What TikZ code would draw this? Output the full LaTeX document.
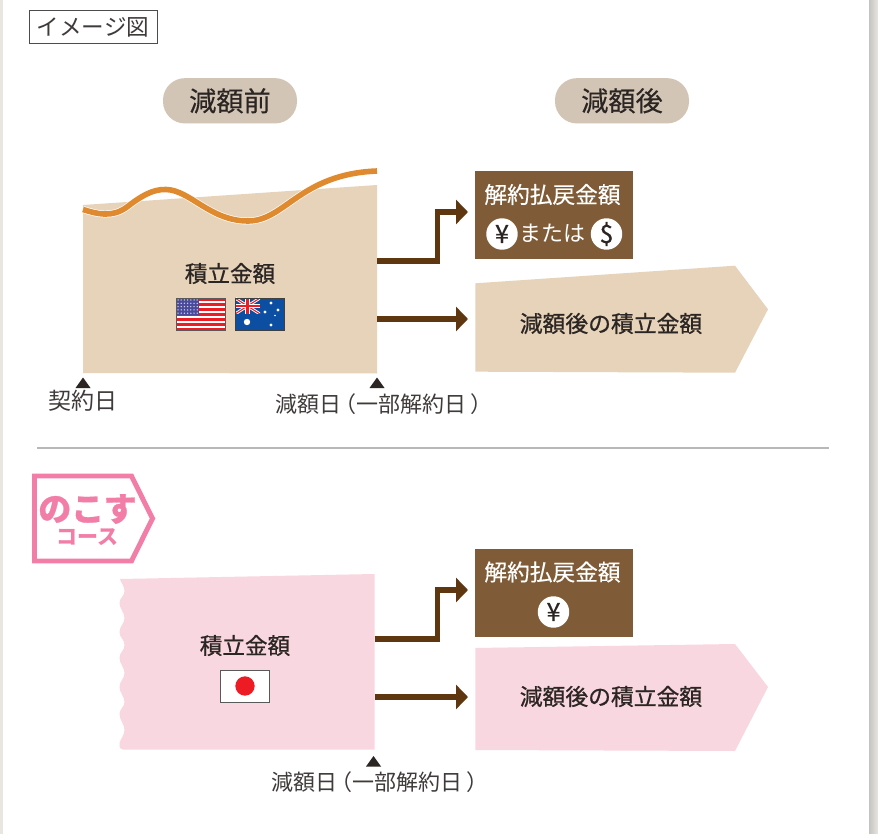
\documentclass[tikz,border=0pt]{standalone}
\usepackage{fontspec}
\setmainfont{Noto Sans CJK JP}
\newfontfamily\medfont[FakeBold=0.35]{Noto Sans CJK JP}
\newfontfamily\semifont[FakeBold=0.8]{Noto Sans CJK JP}
\usetikzlibrary{arrows.meta}
\definecolor{tan}{HTML}{E6D3B9}
\definecolor{pill}{HTML}{D3C5B5}
\definecolor{brownbox}{HTML}{7F5C37}
\definecolor{arrowbrown}{HTML}{5E3710}
\definecolor{pinkfill}{HTML}{F9D7E0}
\definecolor{pinkline}{HTML}{F27EA8}
\definecolor{ink}{HTML}{2B2523}
\definecolor{softink}{HTML}{3F3B3A}
\definecolor{curve}{HTML}{DF8A2E}
\definecolor{usred}{HTML}{ED1C24}
\definecolor{usblue}{HTML}{4A4A9C}
\definecolor{aublue}{HTML}{0B4EA2}
\definecolor{edge}{HTML}{E8E6DF}
\definecolor{edgedark}{HTML}{C4C4C2}
\newcommand{\fspx}[1]{\fontsize{\dimexpr#1pt*3/4\relax}{\dimexpr#1pt*3/4\relax}\selectfont}
\tikzset{
  flow/.style={draw=arrowbrown,line width=3.9pt,line join=miter,-{Triangle[length=9pt,width=18pt]}},
  lab/.style={inner sep=0pt,text=softink,font=\fspx{22}},
  labb/.style={inner sep=0pt,text=ink,font=\semifont\fspx{22.6}},
  whitelab/.style={inner sep=0pt,text=white,font=\fspx{22}},
  pillbox/.style={fill=pill,rounded corners=16.5pt,minimum width=100.5pt,minimum height=34pt,inner sep=0pt,text=ink,font=\medfont\fspx{27.2}},
  brownrect/.style={fill=brownbox,minimum width=118.5pt,minimum height=66pt,inner sep=0pt},
  coin/.style={circle,fill=white,minimum size=23.6pt,inner sep=0pt,text=ink,font=\semifont\fspx{25}},
  marker/.style={fill=ink},
  flagframe/.style={draw=black!65,line width=.6pt},
}
\begin{document}
\begin{tikzpicture}[x=0.75pt,y=-0.75pt]
\useasboundingbox (0,0) rectangle (878,834);
\fill[white] (0,0) rectangle (878,834);
% page edges
\fill[edge] (0,0) rectangle (3,834);
\shade[left color=edgedark,right color=edge] (869,0) rectangle (878,834);
% header tag
\node[draw=black!70,line width=.7pt,fill=white,minimum width=96pt,minimum height=25pt,inner sep=0pt,text=softink,font=\fspx{22.6}] (tag) at (93,27) {イメージ図};
\node[pillbox] (before) at (230,100.8) {減額前};
\node[pillbox] (after) at (622,100.8) {減額後};
% upper block
\fill[tan] (83,205) -- (377,185) -- (377,373.5) -- (83,373) -- cycle;
\coordinate (A1) at (377,261);
\coordinate (A2) at (377,319);
\draw[white,line width=5.2pt] (83,209.5) .. controls (97,214) and (112,218) .. (127,207) .. controls (140,197) and (152,189) .. (166,189.5) .. controls (190,190) and (210,221) .. (248,221) .. controls (285,221) and (300,174) .. (377,171);
\draw[curve,line width=4.2pt] (83,209.5) .. controls (97,214) and (112,218) .. (127,207) .. controls (140,197) and (152,189) .. (166,189.5) .. controls (190,190) and (210,221) .. (248,221) .. controls (285,221) and (300,174) .. (377,171);
\node[labb] (sum1) at (230,273.5) {積立金額};
% US flag
\begin{scope}
\clip (176.5,298) rectangle (225,330);
\fill[white] (176.5,298) rectangle (225,330);
\foreach \i in {0,...,6}{\fill[usred] (176.5,298+\i*4.92) rectangle (225,298+\i*4.92+2.9);}
\fill[usblue] (176.5,298) rectangle (199,315);
\foreach \r in {0,...,4}{\foreach \c in {0,...,6}{\fill[white!75!usblue] (178+\c*3.2,300+\r*3.3) circle (.75);}}
\end{scope}
\draw[flagframe] (176.5,298) rectangle (225,330);
% AU flag
\begin{scope}
\clip (235,298) rectangle (284,330);
\fill[aublue] (235,298) rectangle (284,330);
\begin{scope}
\clip (235,298) rectangle (260,314);
\draw[white,line width=2.2pt] (235,298) -- (260,314) (260,298) -- (235,314);
\draw[usred,line width=.8pt] (235,298) -- (260,314) (260,298) -- (235,314);
\draw[white,line width=3.6pt] (247.5,298) -- (247.5,314) (235,306) -- (260,306);
\draw[usred,line width=2.1pt] (247.5,298) -- (247.5,314) (235,306) -- (260,306);
\end{scope}
\foreach \x/\y/\r in {247/322/3.2,271/303/1.7,265/312/1.7,278/310/1.7,275/315.5/.9,271/325/1.7}{\fill[white] (\x,\y) circle (\r);}
\end{scope}
\draw[flagframe,draw=black!75] (235,298) rectangle (284,330);
% markers
\fill[marker] (83,377.5) -- (90.5,388) -- (75.5,388) -- cycle;
\fill[marker] (377,377.5) -- (384.5,388) -- (369.5,388) -- cycle;
\node[lab,font=\fspx{23}] (start) at (82.5,401) {契約日};
\node[lab,anchor=west] (cut1) at (275.5,404) {減額日\hspace{-.34em}（一部解約日\hspace{.18em}）};
% upper results
\node[brownrect] (pay1) at (553.8,215) {};
\node[whitelab,font=\medfont\fspx{22.7}] (pay1t) at (552.5,194.5) {解約払戻金額};
\node[coin] (yen1) at (502,234) {¥};
\node[coin] (dol1) at (606.5,234) {\$};
\node[whitelab] (or1) at (552.5,233) {または};
\fill[tan] (475.3,283.3) -- (735,265.7) -- (768,309.3) -- (735,372.7) -- (475.3,371.7) -- cycle;
\node[labb,font=\semifont\fspx{22.8}] (rest1) at (611,323.5) {減額後の積立金額};
\coordinate (T1) at (468,212);
\coordinate (T2) at (468,319);
\draw[flow] (A1) -| (437.5,212) -- (T1);
\draw[flow] (A2) -- (T2);
% divider
\draw[black!28,line width=.8pt] (37,448) coordinate (d1) -- (829,448) coordinate (d2);
% badge
\draw[pinkline,line width=3.7pt,fill=white,line join=miter] (34.5,476) -- (131.5,476) -- (152.5,518.5) -- (131.5,561) -- (34.5,561) -- cycle;
\node[inner sep=0pt,text=pinkline,font=\fspx{33}\bfseries\addfontfeature{FakeBold=.8}] (nokosu) at (87.5,509) {のこす};
\node[inner sep=0pt,text=pinkline,font=\fspx{21}\bfseries] (course) at (87.5,537.5) {コース};
% lower block
\fill[pinkfill] (120,579) -- (374.5,574) -- (374.5,749.5) -- (123,749.5)
  .. controls (119,749) and (119,745) .. (119.5,743)
  .. controls (120.5,739) and (124.5,735) .. (124.5,730)
  .. controls (124.5,724) and (119.5,720) .. (119.5,714)
  .. controls (119.5,709) and (124.5,707) .. (124.5,702)
  .. controls (124.5,696) and (119.5,693) .. (119.5,687)
  .. controls (119.5,681) and (124.5,679) .. (124.5,673)
  .. controls (124.5,667) and (119.5,664) .. (119.5,658)
  .. controls (119.5,652) and (124.5,651) .. (124.5,645)
  .. controls (124.5,639) and (119.5,638) .. (119.5,632)
  .. controls (119.5,626) and (124.5,624) .. (124.5,618)
  .. controls (124.5,612) and (119.5,609) .. (119.5,603)
  .. controls (119.5,598) and (124.5,596) .. (124.5,591)
  .. controls (124.5,586) and (121,583) .. (120,579) -- cycle;
\coordinate (B1) at (374.5,639);
\coordinate (B2) at (374.5,697);
\node[labb] (sum2) at (245,645.5) {積立金額};
\node[draw=black!65,line width=.6pt,fill=white,minimum width=36.5pt,minimum height=24pt,inner sep=0pt] (jp) at (245,686) {};
\node[circle,fill=usred,minimum size=14.5pt,inner sep=0pt] (sun) at (245,686) {};
\fill[marker] (373.5,756) -- (381,766.5) -- (366,766.5) -- cycle;
\node[lab,anchor=west] (cut2) at (271.5,782) {減額日\hspace{-.34em}（一部解約日\hspace{.18em}）};
% lower results
\node[brownrect] (pay2) at (553.8,593) {};
\node[whitelab,font=\medfont\fspx{22.7}] (pay2t) at (552.5,572) {解約払戻金額};
\node[coin] (yen2) at (553.5,612) {¥};
\fill[pinkfill] (475.3,648) -- (735,644) -- (768,687) -- (735,751) -- (475.3,750) -- cycle;
\node[labb,font=\semifont\fspx{22.8}] (rest2) at (611,696.5) {減額後の積立金額};
\coordinate (T3) at (468,590);
\coordinate (T4) at (468,697);
\draw[flow] (B1) -| (437.5,590) -- (T3);
\draw[flow] (B2) -- (T4);
\end{tikzpicture}
\end{document}
